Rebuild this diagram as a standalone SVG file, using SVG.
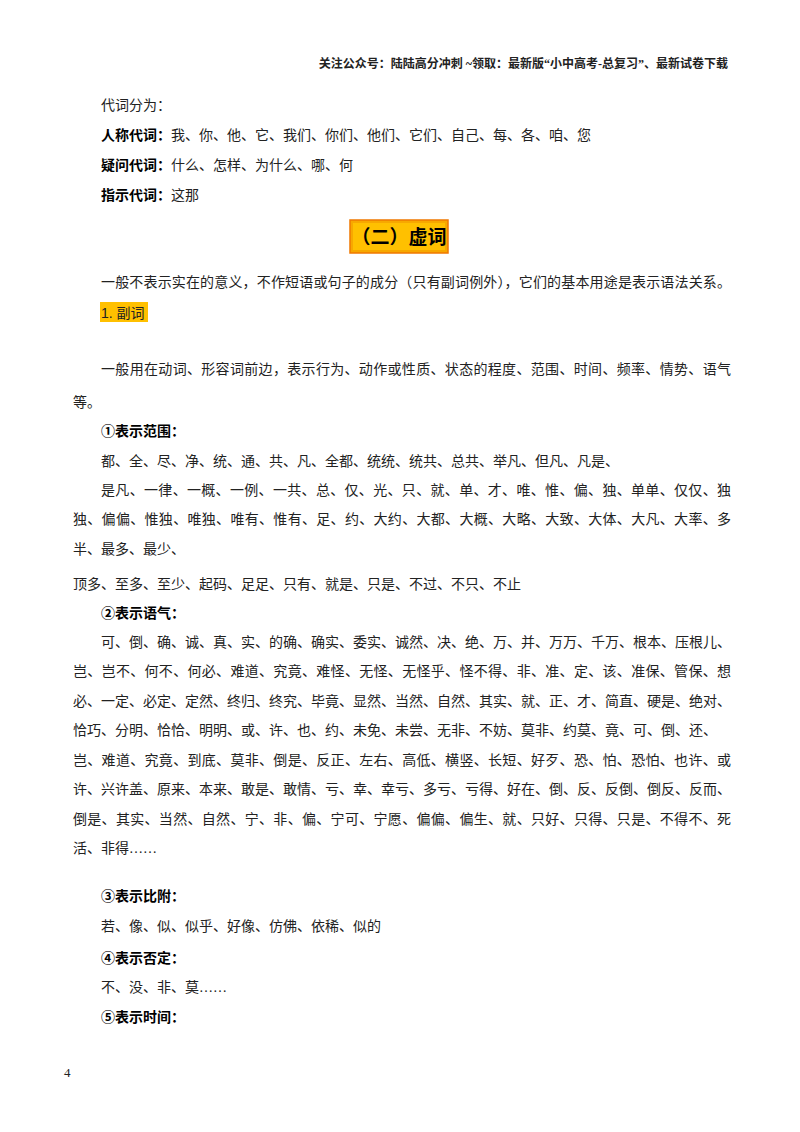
<svg xmlns="http://www.w3.org/2000/svg" width="800" height="1132" viewBox="0 0 800 1132">
<style>
text{font-family:"Liberation Serif","Noto Sans CJK SC",serif;font-size:14px;fill:#222}
.b{font-weight:bold;fill:#000}
.h{font-size:12px;font-weight:bold}
</style>
<rect width="800" height="1132" fill="#fff"/>
<text class="h" x="728" y="68" text-anchor="end">关注公众号：陆陆高分冲刺 ~领取：最新版“小中高考-总复习”、最新试卷下载</text>
<text x="101" y="110">代词分为：</text>
<text x="101" y="140"><tspan class="b">人称代词：</tspan>我、你、他、它、我们、你们、他们、它们、自己、每、各、咱、您</text>
<text x="101" y="170"><tspan class="b">疑问代词：</tspan>什么、怎样、为什么、哪、何</text>
<text x="101" y="200"><tspan class="b">指示代词：</tspan>这那</text>
<g id="title">
<rect x="350" y="220" width="98" height="33" fill="#f7a800" stroke="#f07800" stroke-width="1.5"/>
<rect x="353" y="223" width="92" height="27" fill="#ffc000"/>
<text x="399" y="244" text-anchor="middle" class="b" style="font-size:19px;font-family:'Noto Sans CJK SC',sans-serif">（二）虚词</text>
</g>
<text x="101" y="287" textLength="630" lengthAdjust="spacing">一般不表示实在的意义，不作短语或句子的成分（只有副词例外），它们的基本用途是表示语法关系。</text>
<rect x="100" y="302" width="48" height="20" fill="#ffc000"/>
<text x="101" y="318" style="font-family:'Liberation Sans','Noto Sans CJK SC',sans-serif">1. 副词</text>
<text x="101" y="374" textLength="630" lengthAdjust="spacing">一般用在动词、形容词前边，表示行为、动作或性质、状态的程度、范围、时间、频率、情势、语气</text>
<text x="73" y="407">等。</text>
<text class="b" x="101" y="436">①表示范围：</text>
<text x="101" y="466">都、全、尽、净、统、通、共、凡、全都、统统、统共、总共、举凡、但凡、凡是、</text>
<text x="101" y="495" textLength="630" lengthAdjust="spacing">是凡、一律、一概、一例、一共、总、仅、光、只、就、单、才、唯、惟、偏、独、单单、仅仅、独</text>
<text x="73" y="524" textLength="658" lengthAdjust="spacing">独、偏偏、惟独、唯独、唯有、惟有、足、约、大约、大都、大概、大略、大致、大体、大凡、大率、多</text>
<text x="73" y="554">半、最多、最少、</text>
<text x="73" y="589">顶多、至多、至少、起码、足足、只有、就是、只是、不过、不只、不止</text>
<text class="b" x="101" y="618">②表示语气：</text>
<text x="101" y="647" textLength="630" lengthAdjust="spacing">可、倒、确、诚、真、实、的确、确实、委实、诚然、决、绝、万、并、万万、千万、根本、压根儿、</text>
<text x="73" y="676" textLength="658" lengthAdjust="spacing">岂、岂不、何不、何必、难道、究竟、难怪、无怪、无怪乎、怪不得、非、准、定、该、准保、管保、想</text>
<text x="73" y="706" textLength="658" lengthAdjust="spacing">必、一定、必定、定然、终归、终究、毕竟、显然、当然、自然、其实、就、正、才、简直、硬是、绝对、</text>
<text x="73" y="735">恰巧、分明、恰恰、明明、或、许、也、约、未免、未尝、无非、不妨、莫非、约莫、竟、可、倒、还、</text>
<text x="73" y="765" textLength="658" lengthAdjust="spacing">岂、难道、究竟、到底、莫非、倒是、反正、左右、高低、横竖、长短、好歹、恐、怕、恐怕、也许、或</text>
<text x="73" y="794" textLength="658" lengthAdjust="spacing">许、兴许盖、原来、本来、敢是、敢情、亏、幸、幸亏、多亏、亏得、好在、倒、反、反倒、倒反、反而、</text>
<text x="73" y="824" textLength="658" lengthAdjust="spacing">倒是、其实、当然、自然、宁、非、偏、宁可、宁愿、偏偏、偏生、就、只好、只得、只是、不得不、死</text>
<text x="73" y="853">活、非得……</text>
<text class="b" x="101" y="901">③表示比附：</text>
<text x="101" y="931">若、像、似、似乎、好像、仿佛、依稀、似的</text>
<text class="b" x="101" y="963">④表示否定：</text>
<text x="101" y="992">不、没、非、莫……</text>
<text class="b" x="101" y="1022">⑤表示时间：</text>
<text x="64" y="1077" style="font-size:13px">4</text>
</svg>
